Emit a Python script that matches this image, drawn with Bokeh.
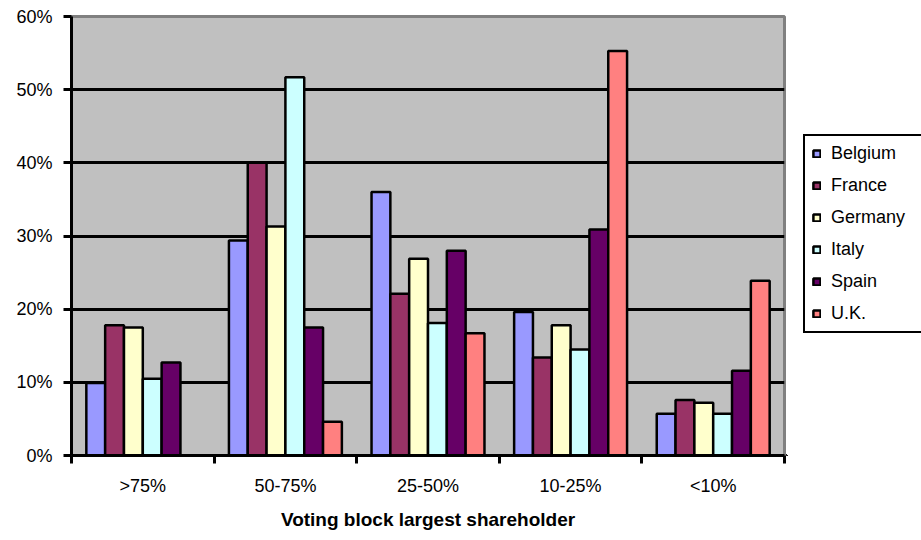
from bokeh.plotting import figure
from bokeh.layouts import row
from bokeh.models import (ColumnDataSource, Range1d, LinearAxis,
                          FixedTicker, PrintfTickFormatter, Legend, LegendItem)
from bokeh.transform import dodge
from bokeh.embed import file_html
from bokeh.resources import INLINE

categories = [">75%", "50-75%", "25-50%", "10-25%", "<10%"]
countries = ["Belgium", "France", "Germany", "Italy", "Spain", "U.K."]
belgium = [9.9, 29.4, 36.0, 19.6, 5.7]
france = [17.8, 40.0, 22.1, 13.4, 7.6]
germany = [17.5, 31.3, 26.9, 17.8, 7.2]
italy = [10.5, 51.7, 18.1, 14.5, 5.7]
spain = [12.7, 17.5, 28.0, 30.9, 11.6]
uk = [0.0, 4.6, 16.7, 55.3, 23.9]
colors = ["#9999FF", "#993366", "#FFFFCC", "#CCFFFF", "#660066", "#FF8080"]
y_ticks = [0, 10, 20, 30, 40, 50, 60]

series = [belgium, france, germany, italy, spain, uk]
keys = ["c%d" % i for i in range(len(countries))]
n = len(categories)
centers = [i + 0.5 for i in range(n)]
data = {"cat": categories, "pos": centers}
for k, s in zip(keys, series):
    data[k] = s
src = ColumnDataSource(data)

FONT = "Liberation Sans"

p = figure(width=786, height=540, x_range=Range1d(0, n),
           y_range=Range1d(0, 60), x_axis_type=None,
           output_backend="svg", toolbar_location=None,
           min_border_left=71, min_border_right=2, min_border_top=16, min_border_bottom=85)
p.background_fill_color = "#C0C0C0"
p.border_fill_color = "white"
p.outline_line_color = "#808080"
p.outline_line_width = 3

bw = 0.132
for i, (k, col) in enumerate(zip(keys, colors)):
    off = (i - 2.5) * bw
    p.vbar(x=dodge("pos", off), top=k, width=bw, source=src,
           fill_color=col, line_color="black", line_width=2.5)

# y axis
ya = p.yaxis[0]
ya.ticker = FixedTicker(ticks=y_ticks)
ya.formatter = PrintfTickFormatter(format="%d%%")
ya.axis_line_color = "black"
ya.axis_line_width = 3
ya.major_tick_line_color = "black"
ya.major_tick_line_width = 3
ya.major_tick_in = 0
ya.major_tick_out = 8
ya.minor_tick_line_color = None
ya.major_label_text_font = FONT
ya.major_label_text_font_size = "18px"
ya.major_label_text_color = "black"
ya.major_label_standoff = 11

p.ygrid.ticker = FixedTicker(ticks=y_ticks[1:-1])
p.ygrid.grid_line_color = "black"
p.ygrid.grid_line_width = 3

# x axes: boundary ticks + category labels
bounds = list(range(n + 1))
bax = LinearAxis(ticker=FixedTicker(ticks=bounds),
                 major_label_overrides={b: "" for b in bounds},
                 major_label_text_font_size="0px", major_label_standoff=0,
                 axis_line_color="black", axis_line_width=3,
                 major_tick_line_color="black", major_tick_line_width=3,
                 major_tick_in=0, major_tick_out=8, minor_tick_line_color=None)
cax = LinearAxis(ticker=FixedTicker(ticks=centers),
                 major_label_overrides={c: lab for c, lab in zip(centers, categories)},
                 axis_line_color=None, major_tick_line_color=None, minor_tick_line_color=None,
                 major_label_text_font=FONT, major_label_text_font_size="18px",
                 major_label_text_color="black", major_label_standoff=6,
                 axis_label="Voting block largest shareholder",
                 axis_label_text_font=FONT, axis_label_text_font_size="19px",
                 axis_label_text_font_style="bold", axis_label_text_color="black",
                 axis_label_standoff=10)
p.add_layout(bax, "below")
p.add_layout(cax, "below")

# legend panel (separate figure to the right of the plot area)
lg = figure(width=135, height=540, x_range=Range1d(0, 1), y_range=Range1d(0, 1),
            x_axis_type=None, y_axis_type=None, output_backend="svg", toolbar_location=None,
            min_border=0, outline_line_color=None)
lg.background_fill_color = "white"
lg.border_fill_color = "white"
lg.grid.visible = False
items = []
# a single off-screen swatch row so the legend can draw each colour key
swatch = ColumnDataSource(dict(x=[-10], top=[-10]))
for name, col in zip(countries, colors):
    r = lg.vbar(x="x", top="top", width=0.1, source=swatch,
                fill_color=col, line_color="black", line_width=2.5)
    items.append(LegendItem(label=name, renderers=[r]))

legend = Legend(items=items, location=(17, 122), margin=0, padding=7, spacing=11,
                border_line_color="black", border_line_width=2.5, border_line_alpha=1.0,
                background_fill_color="white", background_fill_alpha=1.0,
                glyph_width=9, glyph_height=9, label_standoff=10, label_height=20, label_width=95,
                label_text_font=FONT, label_text_font_size="18px", label_text_color="black")
lg.add_layout(legend, "center")

layout = row(p, lg, spacing=0)
open("out.html", "w").write(file_html(layout, INLINE))
